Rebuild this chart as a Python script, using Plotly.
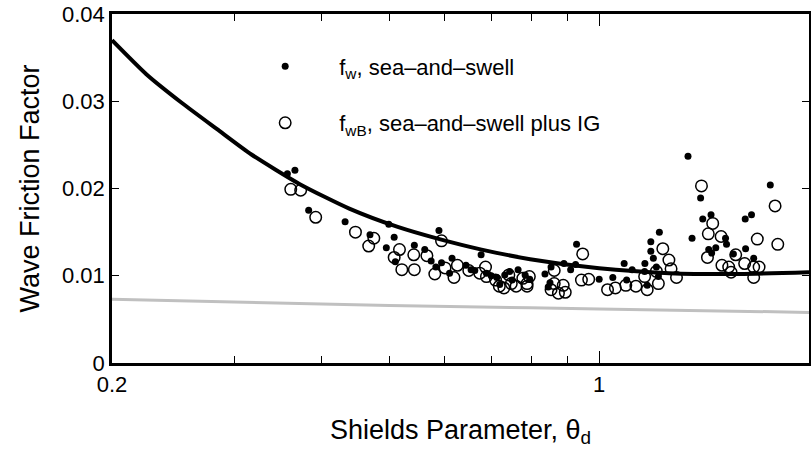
import plotly.graph_objects as go

# Filled dots: f_w, sea-and-swell
fw_theta = [0.357, 0.366, 0.383, 0.432, 0.469, 0.499, 0.508, 0.495, 0.510, 0.543,
            0.562, 0.574, 0.583, 0.589, 0.594, 0.610, 0.615, 0.644, 0.655, 0.677,
            0.663, 0.689, 0.700, 0.713, 0.720, 0.732, 0.744, 0.750, 0.765, 0.783,
            0.795, 0.836, 0.845, 0.850, 0.853, 0.890, 0.910, 0.925, 0.928, 1.000,
            1.046, 1.086, 1.095, 1.115, 1.163, 1.172, 1.186, 1.186, 1.196, 1.208,
            1.220, 1.162, 1.216, 1.341, 1.359, 1.398, 1.408, 1.447, 1.436, 1.450,
            1.470, 1.518, 1.523, 1.558, 1.620, 1.654, 1.622, 1.666, 1.760]
fw_vals = [0.0217, 0.0221, 0.0175, 0.0162, 0.0147, 0.0159, 0.0144, 0.0132, 0.0116, 0.0135,
           0.0130, 0.0117, 0.0110, 0.0152, 0.0115, 0.0103, 0.0120, 0.0112, 0.0107, 0.0124,
           0.0106, 0.0103, 0.0100, 0.0098, 0.0090, 0.0101, 0.0105, 0.0095, 0.0107, 0.0101,
           0.0096, 0.0102, 0.0087, 0.0092, 0.0110, 0.0114, 0.0107, 0.0113, 0.0136, 0.0096,
           0.0098, 0.0114, 0.0095, 0.0107, 0.0114, 0.0089, 0.0139, 0.0128, 0.0120, 0.0110,
           0.0150, 0.0105, 0.0099, 0.0237, 0.0143, 0.0189, 0.0165, 0.0170, 0.0130, 0.0126,
           0.0132, 0.0143, 0.0136, 0.0125, 0.0165, 0.0170, 0.0131, 0.0120, 0.0204]

# Open circles: f_wB, sea-and-swell plus IG
fwb_theta = [0.361, 0.373, 0.392, 0.447, 0.467, 0.475, 0.508, 0.517, 0.521, 0.542,
             0.543, 0.566, 0.581, 0.594, 0.601, 0.619, 0.626, 0.650, 0.674, 0.687,
             0.689, 0.710, 0.719, 0.730, 0.742, 0.748, 0.760, 0.777, 0.788, 0.788,
             0.794, 0.853, 0.862, 0.862, 0.874, 0.888, 0.894, 0.943, 0.947, 0.966,
             1.028, 1.055, 1.092, 1.129, 1.162, 1.172, 1.208, 1.216, 1.234, 1.259,
             1.268, 1.291, 1.402, 1.430, 1.434, 1.455, 1.496, 1.500, 1.534, 1.546,
             1.570, 1.617, 1.666, 1.666, 1.686, 1.696, 1.788, 1.804]
fwb_vals = [0.0199, 0.0198, 0.0167, 0.0150, 0.0134, 0.0143, 0.0121, 0.0130, 0.0107, 0.0124,
            0.0107, 0.0123, 0.0102, 0.0140, 0.0109, 0.0098, 0.0112, 0.0106, 0.0103, 0.0110,
            0.0099, 0.0095, 0.0088, 0.0086, 0.0101, 0.0091, 0.0088, 0.0097, 0.0091, 0.0088,
            0.0099, 0.0084, 0.0106, 0.0091, 0.0080, 0.0089, 0.0081, 0.0095, 0.0125, 0.0096,
            0.0084, 0.0086, 0.0089, 0.0088, 0.0099, 0.0084, 0.0105, 0.0091, 0.0131, 0.0118,
            0.0108, 0.0098, 0.0203, 0.0121, 0.0148, 0.0160, 0.0145, 0.0112, 0.0110, 0.0104,
            0.0124, 0.0114, 0.0110, 0.0098, 0.0142, 0.0110, 0.0180, 0.0136]

# Black fitted curve
fit_theta = [0.2, 0.224, 0.252, 0.283, 0.317, 0.372, 0.438, 0.514, 0.590, 0.678,
             0.796, 1.0, 1.26, 1.59, 2.0]
fit_vals = [0.0370, 0.0331, 0.0298, 0.0268, 0.0239, 0.0205, 0.0177, 0.0156, 0.0142, 0.0130,
            0.0119, 0.01085, 0.0103, 0.0102, 0.0104]

# Gray curve
gray_theta = [0.2, 0.5, 1.0, 2.0]
gray_vals = [0.0073, 0.0066, 0.0062, 0.0058]

x_ticks = [0.2, 1, 2]
x_ticktext = ["0.2", "1", "2"]
x_minor = [0.3, 0.4, 0.5, 0.6, 0.7, 0.8, 0.9]
y_ticks = [0, 0.01, 0.02, 0.03, 0.04]
y_ticktext = ["0", "0.01", "0.02", "0.03", "0.04"]

FONT = "Liberation Sans, Arial, Helvetica, sans-serif"

fig = go.Figure()
fig.add_trace(go.Scatter(x=gray_theta, y=gray_vals, mode="lines",
                         line=dict(color="#c0c0c0", width=3, shape="spline"),
                         showlegend=False, hoverinfo="skip"))
fig.add_trace(go.Scatter(x=fit_theta, y=fit_vals, mode="lines",
                         line=dict(color="black", width=4, shape="spline", smoothing=0.6),
                         showlegend=False, hoverinfo="skip"))
fig.add_trace(go.Scatter(x=fw_theta, y=fw_vals, mode="markers",
                         marker=dict(symbol="circle", size=7, color="black"),
                         name="f<sub>w</sub>, sea–and–swell", legendgroup="a"))
fig.add_trace(go.Scatter(x=fwb_theta, y=fwb_vals, mode="markers",
                         marker=dict(symbol="circle-open", size=11.5, color="black",
                                     line=dict(width=1.5, color="black")),
                         name="f<sub>wB</sub>, sea–and–swell plus IG", legendgroup="b"))

fig.update_layout(
    width=811, height=457,
    margin=dict(l=112, r=2, t=14, b=94),
    paper_bgcolor="white", plot_bgcolor="white",
    font=dict(family=FONT, color="black", size=20),
    legend=dict(x=0.171, y=0.91, xanchor="left", yanchor="top",
                bgcolor="rgba(0,0,0,0)", font=dict(size=22, family=FONT),
                tracegroupgap=25, itemwidth=98),
    showlegend=True,
)
fig.update_xaxes(
    type="log", range=[-0.69897, 0.30103],
    tickvals=x_ticks, ticktext=x_ticktext,
    ticks="inside", ticklen=12, tickwidth=1, tickcolor="black",
    minor=dict(tickvals=x_minor, ticks="inside", ticklen=7, tickwidth=1, tickcolor="black"),
    showline=True, linewidth=2.5, linecolor="black", mirror="ticks",
    showgrid=False, zeroline=False, automargin=False,
    tickfont=dict(size=22, family=FONT),
    title=dict(text="Shields Parameter, θ<sub>d</sub>", font=dict(size=27, family=FONT), standoff=24),
)
fig.update_yaxes(
    range=[0, 0.04],
    tickvals=y_ticks, ticktext=y_ticktext,
    ticks="inside", ticklen=7, tickwidth=1, tickcolor="black",
    showline=True, linewidth=2.5, linecolor="black", mirror="ticks",
    showgrid=False, zeroline=False, automargin=False,
    tickfont=dict(size=22, family=FONT),
    title=dict(text="Wave Friction Factor", font=dict(size=27, family=FONT), standoff=15),
)

fig.write_html("out.html")
